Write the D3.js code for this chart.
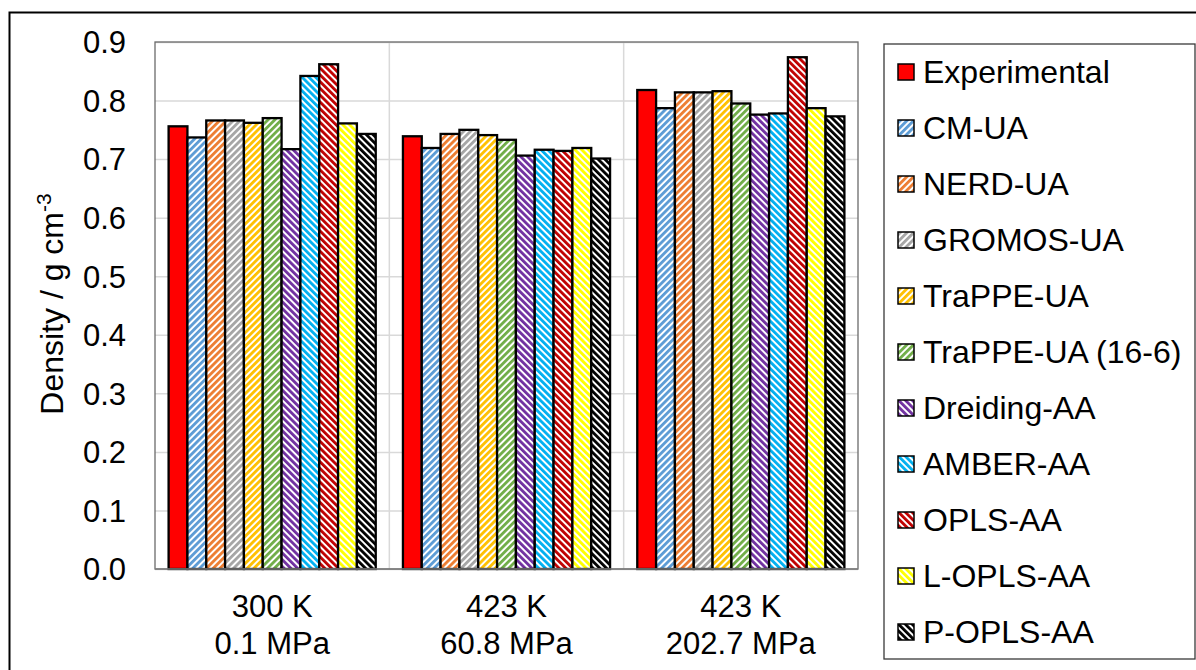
<!DOCTYPE html>
<html><head><meta charset="utf-8">
<script src="https://cdn.jsdelivr.net/npm/d3@7"></script>
<style>
body{margin:0;background:#fff;}
svg{display:block;font-family:"Liberation Sans",Arial,sans-serif;}
</style></head>
<body><svg id="chart" width="1196" height="670"></svg>
<script>
const categories = [["300 K","0.1 MPa"],["423 K","60.8 MPa"],["423 K","202.7 MPa"]];
const seriesNames = ["Experimental","CM-UA","NERD-UA","GROMOS-UA","TraPPE-UA","TraPPE-UA (16-6)","Dreiding-AA","AMBER-AA","OPLS-AA","L-OPLS-AA","P-OPLS-AA"];
const experimental = [0.756, 0.739, 0.818];
const cmUA         = [0.737, 0.719, 0.787];
const nerdUA       = [0.766, 0.743, 0.814];
const gromosUA     = [0.766, 0.750, 0.814];
const trappeUA     = [0.762, 0.741, 0.816];
const trappe166    = [0.770, 0.733, 0.795];
const dreidingAA   = [0.717, 0.706, 0.776];
const amberAA      = [0.842, 0.716, 0.778];
const oplsAA       = [0.862, 0.714, 0.874];
const loplsAA      = [0.761, 0.719, 0.787];
const poplsAA      = [0.743, 0.701, 0.773];
const yTicks = [0, 0.1, 0.2, 0.3, 0.4, 0.5, 0.6, 0.7, 0.8, 0.9];

const seriesValues = [experimental, cmUA, nerdUA, gromosUA, trappeUA, trappe166, dreidingAA, amberAA, oplsAA, loplsAA, poplsAA];
const colors = ["#FF0000","#5B9BD5","#ED7D31","#A5A5A5","#FFC000","#70AD47","#7030A0","#00B0F0","#C00000","#FFFF00","#000000"];
const hatch = [null,"up","up","up","up","up","down","down","down","down","down"];

const svg = d3.select("#chart");
const FONT = 31;
const L = 155, R = 858, T = 42, B = 569;

// outer frame
svg.append("rect").attr("x",9.5).attr("y",12.5).attr("width",1300).attr("height",800)
  .attr("fill","none").attr("stroke","#000").attr("stroke-width",2);

// patterns
const defs = svg.append("defs");
const P = 4.8;
seriesNames.forEach((n,i)=>{
  if(!hatch[i]) return;
  const p = defs.append("pattern").attr("id","pat"+i).attr("patternUnits","userSpaceOnUse")
    .attr("width",P).attr("height",P)
    .attr("patternTransform", hatch[i]==="up" ? "rotate(45)" : "rotate(-45)");
  p.append("rect").attr("width",P).attr("height",P).attr("fill","#fff");
  p.append("rect").attr("width",2.8).attr("height",P).attr("fill",colors[i]);
});
const fillFor = i => hatch[i] ? `url(#pat${i})` : colors[i];

const catKeys = categories.map((c,i)=>i);
const x0 = d3.scaleBand().domain(catKeys).range([L,R]).paddingInner(0).paddingOuter(0);
const gap = 13.6;
const x1 = d3.scaleBand().domain(d3.range(seriesNames.length)).range([gap, x0.bandwidth()-gap]).padding(0);
const y = d3.scaleLinear().domain([0,0.9]).range([B,T]);

// horizontal gridlines
svg.append("g").attr("transform",`translate(${L},0)`)
  .call(d3.axisLeft(y).tickValues(yTicks).tickSize(-(R-L)).tickFormat(""))
  .call(g=>g.select(".domain").remove())
  .call(g=>g.selectAll("line").attr("stroke","#d9d9d9").attr("stroke-width",1.5));

// vertical category separators
svg.append("g").selectAll("line").data(catKeys.slice(1)).join("line")
  .attr("x1",d=>x0(d)).attr("x2",d=>x0(d)).attr("y1",T).attr("y2",B)
  .attr("stroke","#d9d9d9").attr("stroke-width",1.5);

// plot border
svg.append("rect").attr("x",L).attr("y",T).attr("width",R-L).attr("height",B-T)
  .attr("fill","none").attr("stroke","#6b6b6b").attr("stroke-width",1.3);

// bars
const gCat = svg.append("g").selectAll("g").data(catKeys).join("g")
  .attr("transform",d=>`translate(${x0(d)},0)`);
gCat.selectAll("rect").data(c=>seriesValues.map((s,i)=>({i, v:s[c]}))).join("rect")
  .attr("x",d=>x1(d.i)).attr("width",x1.bandwidth())
  .attr("y",d=>y(d.v)).attr("height",d=>B-y(d.v))
  .attr("fill",d=>fillFor(d.i)).attr("stroke","#000").attr("stroke-width",2.3);

// bottom axis line
svg.append("line").attr("x1",L).attr("x2",R).attr("y1",B).attr("y2",B)
  .attr("stroke","#808080").attr("stroke-width",1.5);

// y axis labels
svg.append("g").attr("transform",`translate(${L-29},0)`)
  .call(d3.axisLeft(y).tickValues(yTicks).tickSize(0).tickPadding(0).tickFormat(d3.format(".1f")))
  .call(g=>g.select(".domain").remove())
  .call(g=>g.selectAll("text").attr("font-size",FONT).attr("fill","#000")
     .attr("font-family",'"Liberation Sans",Arial,sans-serif').attr("dy","0.35em"));

// x axis labels
const xa = svg.append("g").attr("transform",`translate(0,${B})`)
  .call(d3.axisBottom(x0).tickSize(0).tickFormat(""))
  .call(g=>g.select(".domain").remove());
xa.selectAll(".tick").each(function(d){
  const t = d3.select(this).append("text").attr("fill","#000").attr("font-size",FONT)
    .attr("font-family",'"Liberation Sans",Arial,sans-serif').attr("text-anchor","middle");
  categories[d].forEach((ln,k)=>{
    t.append("tspan").attr("x",0).attr("y",48+k*37).text(ln);
  });
});

// y axis title
const yt = svg.append("text").attr("transform",`translate(63,304) rotate(-90)`)
  .attr("text-anchor","middle").attr("font-size",32).attr("fill","#000");
yt.append("tspan").text("Density / g cm");
yt.append("tspan").attr("font-size",21).attr("dy",-12).text("-3");

// legend
const LX = 884, LY = 44;
svg.append("rect").attr("x",LX).attr("y",LY).attr("width",1195-LX).attr("height",659-LY)
  .attr("fill","#fff").attr("stroke","#3a3a3a").attr("stroke-width",1.3);
const lg = svg.append("g").selectAll("g").data(seriesNames).join("g")
  .attr("transform",(d,i)=>`translate(${LX},${72+i*56})`);
lg.append("rect").attr("x",14).attr("y",-8).attr("width",16).attr("height",16)
  .attr("fill",(d,i)=>fillFor(i)).attr("stroke","#000").attr("stroke-width",1.5);
lg.append("text").attr("x",39).attr("y",11).attr("font-size",32).attr("fill","#000").text(d=>d);
</script></body></html>
